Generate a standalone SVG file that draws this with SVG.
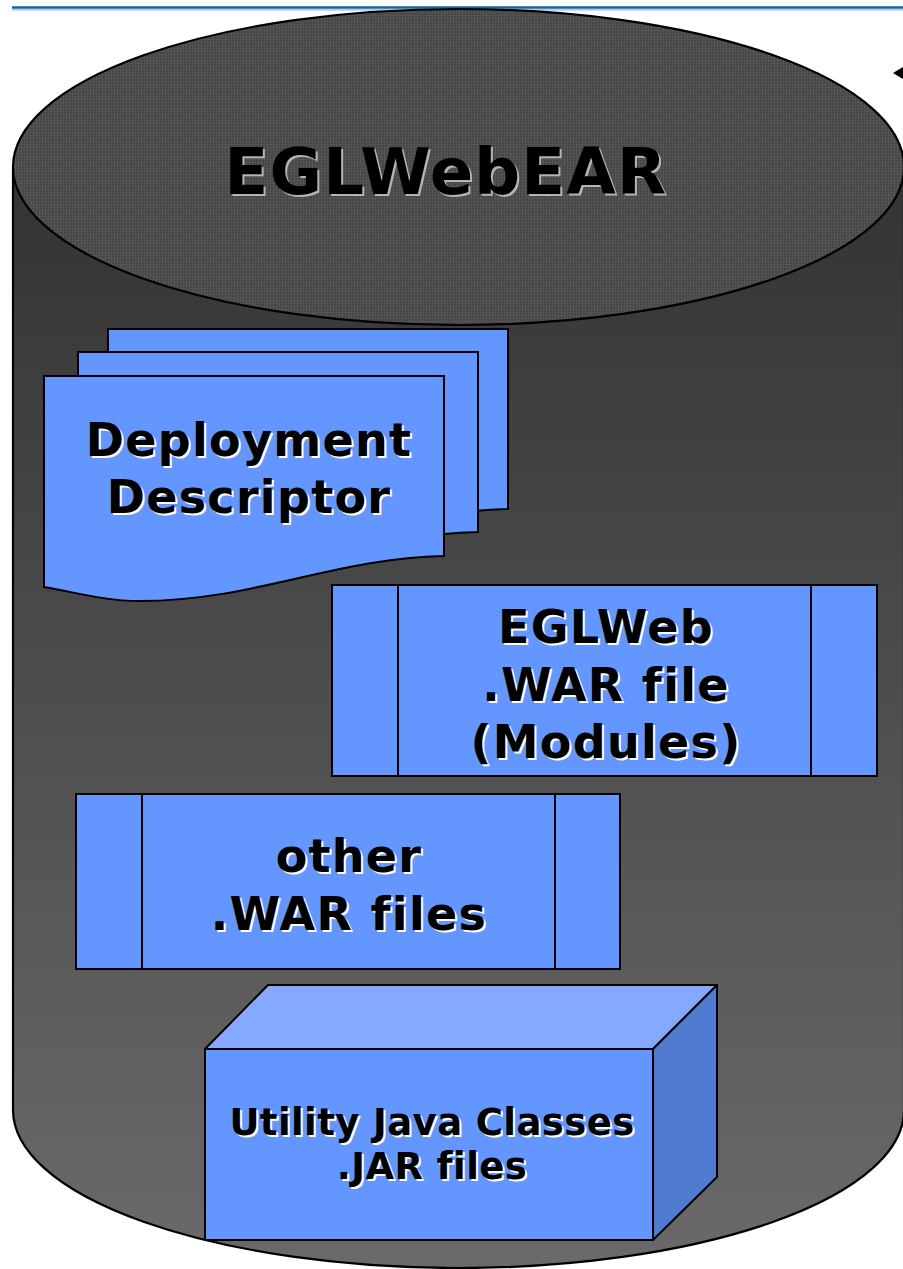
<svg xmlns="http://www.w3.org/2000/svg" width="903" height="1269" viewBox="0 0 903 1269">
<defs>
<linearGradient id="body" x1="0" y1="167" x2="0" y2="1268" gradientUnits="userSpaceOnUse">
<stop offset="0" stop-color="#333333"/>
<stop offset="1" stop-color="#6a6a6a"/>
</linearGradient>
<pattern id="grid" width="3" height="3" patternUnits="userSpaceOnUse">
<rect width="3" height="3" fill="#454545"/>
<rect x="0" y="0" width="1" height="3" fill="#575757"/>
<rect x="0" y="0" width="3" height="1" fill="#535353"/>
</pattern>
<path id="doc" d="M0,0 H400 V180 C290,182 210,225 96,225 C60,225 30,216 0,211 Z"/>
</defs>
<style>
.blue{fill:#6496ff;stroke:#000;stroke-width:2}
.t{font-family:"DejaVu Sans",Verdana,sans-serif;font-weight:bold;text-anchor:middle}
.big{font-size:46px;letter-spacing:1.3px}
.sh{fill:#ffffff}
.shg{fill:#b4b4b4}
.fg{fill:#000}
</style>
<rect width="903" height="1269" fill="#ffffff"/>
<line x1="12" y1="7.5" x2="903" y2="7.5" stroke="#14649e" stroke-width="2.5"/>
<line x1="12" y1="9.8" x2="903" y2="9.8" stroke="#8cbfe0" stroke-width="1.2"/>
<polygon points="893,73 903,67 903,79" fill="#000"/>

<g id="ear">
<path d="M13,167 V1110 A445.5,158 0 0 0 904,1110 V167" fill="url(#body)" stroke="#000" stroke-width="2.2"/>
<ellipse cx="458.5" cy="167" rx="445.5" ry="158" fill="url(#grid)" stroke="#000" stroke-width="2.2"/>
<text class="t shg" x="448" y="196" font-size="64" letter-spacing="1.2">EGLWebEAR</text>
<text class="t fg" x="446" y="194" font-size="64" letter-spacing="1.2">EGLWebEAR</text>
</g>

<g id="deployment-descriptor">
<use href="#doc" x="108" y="329" class="blue"/>
<use href="#doc" x="78" y="352" class="blue"/>
<use href="#doc" x="44" y="376" class="blue"/>
<text class="t big sh"><tspan x="251" y="458">Deployment</tspan><tspan x="251" y="515">Descriptor</tspan></text>
<text class="t big fg"><tspan x="249" y="456">Deployment</tspan><tspan x="249" y="513">Descriptor</tspan></text>
</g>

<g id="eglweb-war">
<rect x="332" y="585" width="545" height="191" class="blue"/>
<line x1="398" y1="585" x2="398" y2="776" stroke="#000" stroke-width="2"/>
<line x1="811" y1="585" x2="811" y2="776" stroke="#000" stroke-width="2"/>
<text class="t big sh"><tspan x="608" y="645">EGLWeb</tspan><tspan x="608" y="703">.WAR file</tspan><tspan x="608" y="760">(Modules)</tspan></text>
<text class="t big fg"><tspan x="606" y="643">EGLWeb</tspan><tspan x="606" y="701">.WAR file</tspan><tspan x="606" y="758">(Modules)</tspan></text>
</g>

<g id="other-war">
<rect x="76" y="794" width="544" height="175" class="blue"/>
<line x1="142" y1="794" x2="142" y2="969" stroke="#000" stroke-width="2"/>
<line x1="555" y1="794" x2="555" y2="969" stroke="#000" stroke-width="2"/>
<text class="t big sh"><tspan x="351" y="874">other</tspan><tspan x="351" y="932">.WAR files</tspan></text>
<text class="t big fg"><tspan x="349" y="872">other</tspan><tspan x="349" y="930">.WAR files</tspan></text>
</g>

<g id="utility-jar">
<polygon points="205,1049 268,985 717,985 653,1049" fill="#84a9ff" stroke="#000" stroke-width="2" stroke-linejoin="round"/>
<polygon points="653,1049 717,985 717,1177 653,1240" fill="#517bd0" stroke="#000" stroke-width="2" stroke-linejoin="round"/>
<rect x="205" y="1049" width="448" height="191" class="blue"/>
<text class="t sh" font-size="37" letter-spacing="0.4"><tspan x="434" y="1137">Utility Java Classes</tspan><tspan x="434" y="1181">.JAR files</tspan></text>
<text class="t fg" font-size="37" letter-spacing="0.4"><tspan x="432" y="1135">Utility Java Classes</tspan><tspan x="432" y="1179">.JAR files</tspan></text>
</g>
<g id="connectors"></g>
</svg>
